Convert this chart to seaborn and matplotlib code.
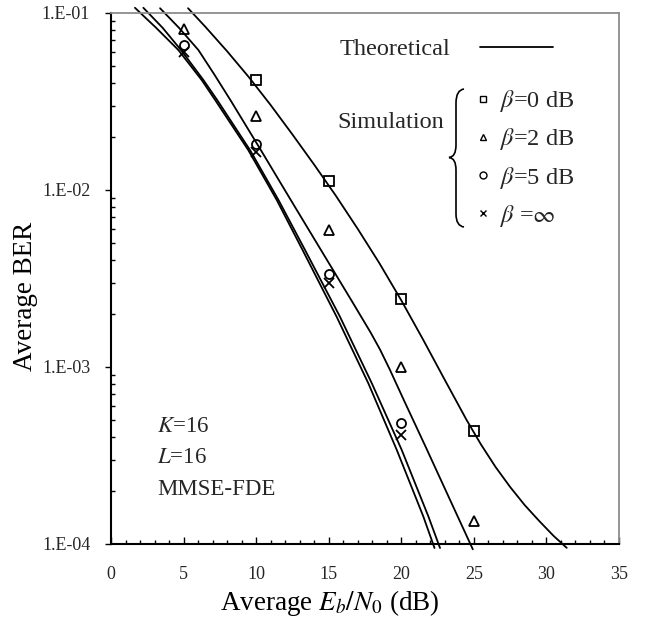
import numpy as np
import matplotlib
matplotlib.use("Agg")
import matplotlib.pyplot as plt
import matplotlib.ticker as ticker
import matplotlib.transforms as mtransforms
from matplotlib.lines import Line2D
from matplotlib.path import Path
from matplotlib.patches import PathPatch
import seaborn as sns

# theoretical curves
theo_inf_x = [1.65, 3.1, 4.64, 6.25, 7.17, 9.46, 11.42, 13.20, 15.55, 17.73, 19.69, 21.52, 22.29]
theo_inf_ber = [0.107, 0.0826, 0.0618, 0.0418, 0.0323, 0.0168, 0.00878, 0.00458, 0.00192,
                0.000809, 0.00034, 0.000143, 0.0000949]
theo_5_x = [2.23, 3.55, 4.82, 6.37, 7.31, 9.58, 11.54, 13.37, 15.78, 17.97, 20.03, 21.87, 22.67]
theo_5_ber = [0.107, 0.0826, 0.0618, 0.0418, 0.0323, 0.0168, 0.00878, 0.00458, 0.00192,
              0.000809, 0.00034, 0.000143, 0.0000949]
theo_2_x = [3.38, 4.7, 6.02, 7.1, 8.27, 10.27, 12.34, 14.61, 16.59, 17.9, 18.54, 19.2,
            20.2, 21.7, 23.3, 24.93]
theo_2_ber = [0.1064, 0.0822, 0.0618, 0.0452, 0.0318, 0.0171, 0.00891, 0.00438, 0.00236,
              0.00156, 0.001253, 0.000971, 0.000644, 0.000351, 0.000182, 0.0000933]
theo_0_x = [5.31, 6.5, 8, 9.5, 11, 12.5, 14, 15.5, 17, 18.5, 20, 21.5, 23, 24.5, 25.5,
            26.5, 27.5, 28.5, 29.5, 30.5, 31.4]
theo_0_ber = [0.1064, 0.0836, 0.0608, 0.0434, 0.0302, 0.0206, 0.0139, 0.00926, 0.00603,
              0.00385, 0.00238, 0.00143, 0.000845, 0.000502, 0.000364, 0.000272, 0.00021,
              0.000166, 0.000135, 0.000111, 0.0000951]

# simulation points
sim_0_x = [10, 15, 20, 25]
sim_0_ber = [0.0418, 0.01125, 0.00242, 0.000435]
sim_2_x = [5, 10, 15, 20, 25]
sim_2_ber = [0.0812, 0.0262, 0.00594, 0.001, 0.000135]
sim_5_x = [5, 10, 15, 20]
sim_5_ber = [0.0659, 0.0182, 0.00335, 0.000483]
sim_inf_x = [5, 10, 15, 20]
sim_inf_ber = [0.0602, 0.0164, 0.0030, 0.000413]

sim_labels = [r'$\beta$=0 dB', r'$\beta$=2 dB', r'$\beta$=5 dB', r'$\beta$ =$\infty$']
x_ticks = [0, 5, 10, 15, 20, 25, 30, 35]
y_ticks = [1e-4, 1e-3, 1e-2, 1e-1]
y_tick_labels = ['1.E-04', '1.E-03', '1.E-02', '1.E-01']

sns.set_theme(style='white')
plt.rcParams['font.family'] = ['Liberation Serif', 'DejaVu Serif']
plt.rcParams['mathtext.fontset'] = 'stix'

fig = plt.figure(figsize=(6.51, 6.19), dpi=100)
ax = fig.add_axes([0.1705, 0.1212, 0.7803, 0.8578])
ax.set_yscale('log')

# reference pixel coords (origin top-left) -> figure
px = mtransforms.Affine2D().scale(1 / 651, -1 / 619).translate(0, 1) + fig.transFigure

for xs, ys in [(theo_inf_x, theo_inf_ber), (theo_5_x, theo_5_ber),
               (theo_2_x, theo_2_ber), (theo_0_x, theo_0_ber)]:
    sns.lineplot(x=xs, y=ys, ax=ax, color='black', lw=1.3, sort=False,
                 estimator=None, clip_on=False, legend=False)

sims = [(sim_0_x, sim_0_ber, 's', 7), (sim_2_x, sim_2_ber, '^', 7.5),
        (sim_5_x, sim_5_ber, 'o', 6.5), (sim_inf_x, sim_inf_ber, 'x', 7)]
for xs, ys, m, ms in sims:
    sns.lineplot(x=xs, y=ys, ax=ax, marker=m, linestyle='', color='black',
                 markerfacecolor='none', markeredgecolor='black', markersize=ms,
                 markeredgewidth=1.3, estimator=None, legend=False)

ax.set_xlim(0, 35)
ax.set_ylim(1e-4, 1e-1)
ax.set_xticks(x_ticks)
ax.xaxis.set_minor_locator(ticker.MultipleLocator(1))
ax.set_yticks(y_ticks)
ax.set_yticklabels(y_tick_labels)
ax.yaxis.set_minor_locator(ticker.LogLocator(base=10, subs=np.arange(2, 10)))
ax.yaxis.set_minor_formatter(ticker.NullFormatter())
ax.tick_params(bottom=True, left=True, which='both', color='black')
ax.tick_params(axis='x', which='major', direction='in', length=5, width=1, labelsize=13, pad=16)
ax.tick_params(axis='x', which='minor', direction='in', length=3, width=1)
ax.tick_params(axis='y', which='major', direction='out', length=4, width=1, labelsize=13, pad=11)
ax.tick_params(axis='y', which='minor', direction='in', length=3, width=1)
ax.grid(False)

for s in ['left', 'bottom']:
    ax.spines[s].set_color('black')
    ax.spines[s].set_linewidth(1.5)
for s in ['top', 'right']:
    ax.spines[s].set_color('#8c8c8c')
    ax.spines[s].set_linewidth(1.3)

ax.set_ylabel('Average BER', fontsize=19.5, color='black')
ax.yaxis.set_label_coords(-0.144, 0.467)
ax.set_xlabel(r'Average $E_b/N_0$ (dB)', fontsize=19.5, color='black')
ax.xaxis.set_label_coords(0.43, -0.083)

# legends
fig.legend(handles=[Line2D([], [], color='black', lw=1.3)], labels=['Theoretical'],
           loc='center left', bbox_to_anchor=(340, 49), bbox_transform=px,
           frameon=False, markerfirst=False, handlelength=3.0, handletextpad=1.2,
           borderpad=0, borderaxespad=0, fontsize=17.5)
sim_handles = [Line2D([], [], ls='', marker=m, ms=5, mfc='none', mec='black', mew=1)
               for _, _, m, _ in sims]
fig.legend(handles=sim_handles, labels=sim_labels, loc='center left',
           bbox_to_anchor=(473, 158.5), bbox_transform=px, frameon=False,
           handlelength=0.8, handletextpad=0.3, labelspacing=0.5,
           borderpad=0, borderaxespad=0, fontsize=17.5)

fig.text(337, 128.3, 'Simulation', transform=px, fontsize=17.5, va='baseline')

# curly brace
verts = [(464, 89), (456, 90), (456, 103), (456, 145), (456, 157), (449, 157.5),
         (456, 158), (456, 170), (456, 214), (456, 226), (464, 227)]
codes = [Path.MOVETO, Path.CURVE3, Path.CURVE3, Path.LINETO, Path.CURVE3, Path.CURVE3,
         Path.CURVE3, Path.CURVE3, Path.LINETO, Path.CURVE3, Path.CURVE3]
fig.add_artist(PathPatch(Path(verts, codes), transform=px, fill=False, lw=1.2, color='black'))

fig.text(157, 431.7, r'$K$=16', transform=px, fontsize=16.5, va='baseline')
fig.text(157, 463.3, r'$L$=16', transform=px, fontsize=16.5, va='baseline')
fig.text(157, 495, 'MMSE-FDE', transform=px, fontsize=16.5, va='baseline')

fig.savefig('out.png', dpi=100)
